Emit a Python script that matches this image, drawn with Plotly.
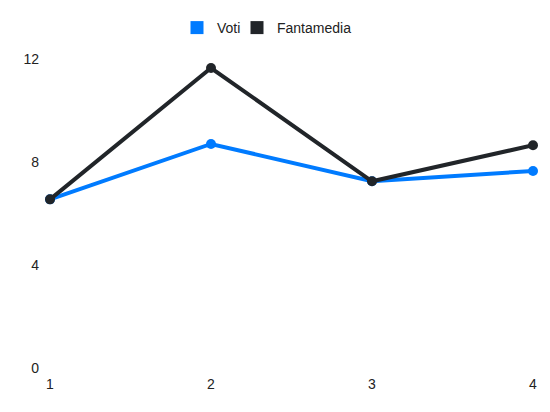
import plotly.graph_objects as go

giornate = [1, 2, 3, 4]
voti = [6.55, 8.7, 7.25, 7.65]
fantamedia = [6.55, 11.65, 7.25, 8.65]
y_ticks = [0, 4, 8, 12]

BLUE = "#007BFF"
DARK = "#212529"

fig = go.Figure()
fig.add_trace(go.Scatter(x=giornate, y=voti, mode="lines+markers", name="Voti",
                         line=dict(color=BLUE, width=4), marker=dict(size=10, color=BLUE),
                         showlegend=False, cliponaxis=False))
fig.add_trace(go.Scatter(x=giornate, y=fantamedia, mode="lines+markers", name="Fantamedia",
                         line=dict(color=DARK, width=4), marker=dict(size=10, color=DARK),
                         showlegend=False, cliponaxis=False))
# legend entries (square swatches)
fig.add_trace(go.Scatter(x=[None], y=[None], mode="markers", name="Voti", legend="legend",
                         marker=dict(symbol="square", size=13, color=BLUE)))
fig.add_trace(go.Scatter(x=[None], y=[None], mode="markers", name="Fantamedia", legend="legend2",
                         marker=dict(symbol="square", size=13, color=DARK)))

leg_common = dict(orientation="h", xanchor="left", yanchor="middle", y=1 - 20 / 404,
                  yref="container", xref="container", font=dict(size=14),
                  bgcolor="rgba(0,0,0,0)")

fig.update_layout(
    width=542, height=404,
    margin=dict(l=42, r=17, t=51, b=44, autoexpand=False),
    paper_bgcolor="white", plot_bgcolor="white",
    font=dict(family="Liberation Sans, Arial, sans-serif", size=14, color="#222"),
    showlegend=True,
    legend=dict(x=169 / 542, **leg_common),
    legend2=dict(x=229 / 542, **leg_common),
    xaxis=dict(range=[1, 4], tickvals=giornate, ticktext=[str(g) for g in giornate],
               showgrid=False, zeroline=False, showline=False, ticks="",
               ticklabelstandoff=6),
    yaxis=dict(range=[0, 12], tickvals=y_ticks, showgrid=False, zeroline=False,
               showline=False, ticks="", ticklabelstandoff=10),
)
fig.write_html("out.html")
